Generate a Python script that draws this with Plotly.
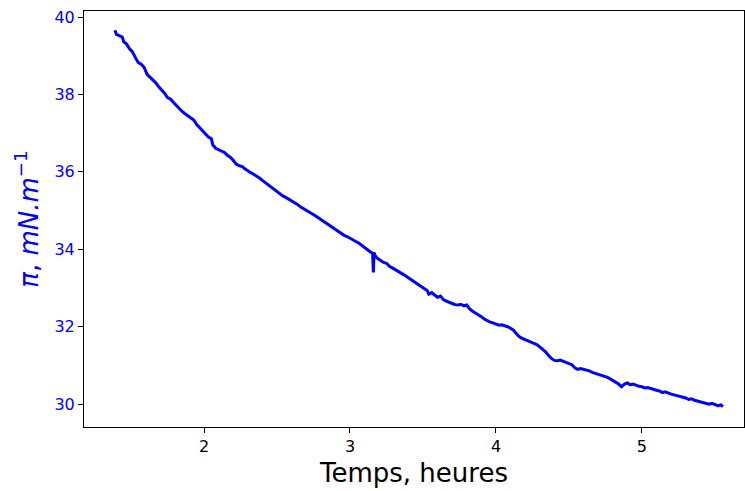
import plotly.graph_objects as go

hours = [1.39, 1.40, 1.42, 1.44, 1.45, 1.47, 1.49, 1.51, 1.53, 1.55, 1.57, 1.59, 1.61, 1.63, 1.65, 1.67, 1.69, 1.71,
         1.73, 1.75, 1.77, 1.79, 1.81, 1.83, 1.85, 1.87, 1.89, 1.91, 1.93, 1.95, 1.97, 1.99, 2.01, 2.03, 2.05, 2.06,
         2.08, 2.10, 2.12, 2.14, 2.16, 2.18, 2.20, 2.22, 2.24, 2.26, 2.28, 2.30, 2.32, 2.34, 2.36, 2.38, 2.40, 2.42,
         2.44, 2.46, 2.48, 2.50, 2.52, 2.54, 2.56, 2.58, 2.60, 2.62, 2.64, 2.66, 2.68, 2.70, 2.72, 2.74, 2.76, 2.78,
         2.80, 2.82, 2.84, 2.86, 2.88, 2.90, 2.92, 2.94, 2.96, 2.98, 3.00, 3.02, 3.04, 3.06, 3.08, 3.10, 3.12, 3.14,
         3.155, 3.16, 3.165, 3.17, 3.19, 3.21, 3.23, 3.25, 3.27, 3.29, 3.31, 3.33, 3.35, 3.37, 3.39, 3.41, 3.43, 3.45,
         3.47, 3.49, 3.51, 3.53, 3.54, 3.56, 3.58, 3.60, 3.62, 3.64, 3.66, 3.68, 3.70, 3.72, 3.74, 3.76, 3.78, 3.80,
         3.82, 3.84, 3.86, 3.88, 3.90, 3.92, 3.94, 3.96, 3.98, 4.00, 4.02, 4.04, 4.06, 4.08, 4.10, 4.12, 4.14, 4.16,
         4.18, 4.20, 4.22, 4.24, 4.26, 4.28, 4.30, 4.32, 4.34, 4.36, 4.38, 4.40, 4.42, 4.44, 4.46, 4.48, 4.50, 4.52,
         4.54, 4.56, 4.58, 4.60, 4.62, 4.64, 4.66, 4.68, 4.70, 4.72, 4.74, 4.76, 4.78, 4.80, 4.82, 4.84, 4.86, 4.88,
         4.90, 4.92, 4.94, 4.96, 4.98, 5.00, 5.02, 5.04, 5.06, 5.08, 5.10, 5.12, 5.14, 5.16, 5.18, 5.20, 5.22, 5.24,
         5.26, 5.28, 5.30, 5.32, 5.34, 5.36, 5.38, 5.40, 5.42, 5.44, 5.46, 5.48, 5.50, 5.52, 5.54, 5.555]

pressure = [39.66, 39.55, 39.52, 39.48, 39.36, 39.30, 39.18, 39.10, 38.95, 38.82, 38.78, 38.70, 38.52, 38.45, 38.38,
            38.30, 38.20, 38.12, 38.03, 37.92, 37.88, 37.80, 37.72, 37.62, 37.56, 37.50, 37.44, 37.40, 37.34, 37.22,
            37.14, 37.05, 36.98, 36.90, 36.86, 36.70, 36.61, 36.58, 36.54, 36.50, 36.43, 36.38, 36.30, 36.20, 36.16,
            36.14, 36.08, 36.02, 35.98, 35.94, 35.90, 35.84, 35.78, 35.72, 35.66, 35.60, 35.55, 35.49, 35.42, 35.38,
            35.34, 35.30, 35.26, 35.22, 35.16, 35.10, 35.06, 35.02, 34.96, 34.92, 34.87, 34.82, 34.76, 34.71, 34.66,
            34.62, 34.56, 34.50, 34.45, 34.40, 34.36, 34.33, 34.28, 34.24, 34.20, 34.16, 34.10, 34.03, 33.98, 33.93,
            33.90, 33.40, 33.92, 33.85, 33.76, 33.70, 33.66, 33.64, 33.56, 33.52, 33.48, 33.44, 33.38, 33.34, 33.29,
            33.24, 33.19, 33.14, 33.10, 33.05, 32.98, 32.93, 32.84, 32.88, 32.82, 32.76, 32.79, 32.70, 32.66, 32.62,
            32.60, 32.57, 32.56, 32.58, 32.54, 32.56, 32.46, 32.40, 32.36, 32.30, 32.26, 32.20, 32.15, 32.12, 32.10,
            32.08, 32.04, 32.05, 32.03, 32.00, 31.96, 31.91, 31.82, 31.74, 31.70, 31.66, 31.62, 31.60, 31.57, 31.54,
            31.48, 31.42, 31.35, 31.26, 31.18, 31.13, 31.12, 31.14, 31.11, 31.09, 31.06, 31.02, 30.94, 30.90, 30.92,
            30.90, 30.88, 30.86, 30.82, 30.80, 30.77, 30.74, 30.72, 30.70, 30.66, 30.62, 30.58, 30.52, 30.45, 30.52,
            30.55, 30.50, 30.52, 30.48, 30.46, 30.45, 30.42, 30.43, 30.40, 30.38, 30.36, 30.34, 30.30, 30.32, 30.28,
            30.26, 30.24, 30.22, 30.20, 30.18, 30.16, 30.12, 30.14, 30.10, 30.08, 30.06, 30.04, 30.03, 30.00, 30.02,
            29.98, 29.96, 29.98, 29.94]

x_ticks = [2, 3, 4, 5]
y_ticks = [30, 32, 34, 36, 38, 40]

fig = go.Figure()
fig.add_trace(go.Scatter(x=hours, y=pressure, mode="lines",
                         line=dict(color="#0000ff", width=3), showlegend=False))

font = "DejaVu Sans, Arial, sans-serif"
fig.update_layout(
    width=745, height=491,
    margin=dict(l=84, r=1, t=11, b=64, autoexpand=False),
    plot_bgcolor="white", paper_bgcolor="white",
    font=dict(family=font, size=16, color="black"),
)
fig.update_xaxes(
    range=[1.178, 5.699], tickvals=x_ticks, ticks="outside", ticklen=5, tickwidth=1,
    tickcolor="black", showline=True, linecolor="black", linewidth=1, mirror=True,
    showgrid=False, zeroline=False, tickfont=dict(size=16, color="black"), automargin=False,
    title=dict(text="Temps, heures", font=dict(size=26, color="black"), standoff=8),
)
fig.update_yaxes(
    range=[29.41, 40.155], tickvals=y_ticks, ticks="outside", ticklen=5, tickwidth=1,
    tickcolor="black", showline=True, linecolor="black", linewidth=1, mirror=True,
    showgrid=False, zeroline=False, tickfont=dict(size=16, color="#0000ff"), automargin=False,
    title=dict(text="<i>π</i>, <i>mN.m</i><sup>−1</sup>", font=dict(size=26, color="#0000ff"), standoff=8),
)
fig.write_html(
    "out.html",
    config={"responsive": False, "displayModeBar": False},
    post_script="document.body.style.margin='0';document.body.style.padding='0';",
)
